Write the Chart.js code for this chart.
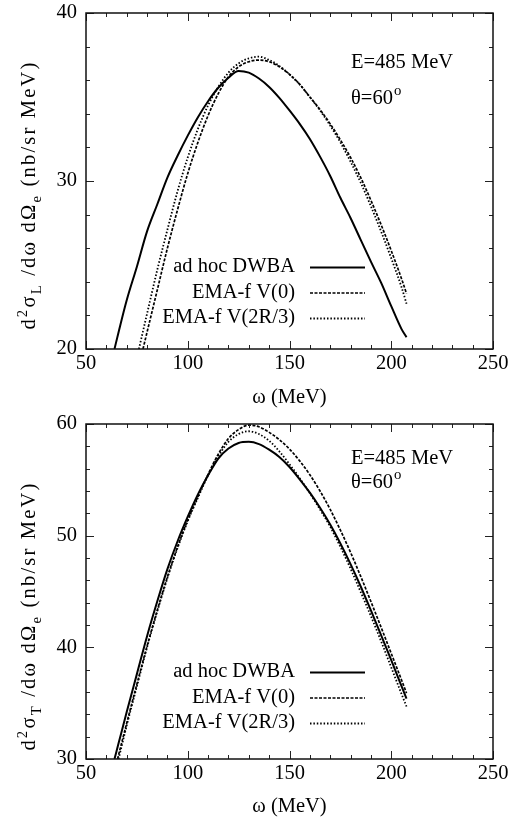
<!DOCTYPE html>
<html lang="en">
<head>
  <meta charset="UTF-8" />
  <title>EMA-f vs ad hoc DWBA</title>
  <style>
    body { margin: 0; background: #fff; }
    canvas { display: block; }
  </style>
</head>
<body>
  <canvas id="chartL" width="521" height="410"></canvas>
  <canvas id="chartT" width="521" height="409"></canvas>

  <script src="https://cdn.jsdelivr.net/npm/chart.js"></script>
  <script>
    // ---- longitudinal (top panel) ----
    const omegaL_dwba = [64, 66, 70, 75, 80, 85, 90, 95, 100, 105, 110, 115, 120, 125, 130, 135, 140, 145, 150, 155, 160, 165, 170, 175, 180, 185, 190, 195, 200, 205, 207.5];
    const L_dwba = [20.0, 21.0, 22.9, 24.9, 27.0, 28.6, 30.2, 31.5, 32.7, 33.8, 34.75, 35.55, 36.15, 36.55, 36.45, 36.1, 35.6, 34.95, 34.2, 33.4, 32.5, 31.45, 30.3, 29.0, 27.8, 26.5, 25.2, 23.95, 22.55, 21.2, 20.7];

    const omegaL_ema0 = [78, 80, 85, 90, 95, 100, 105, 110, 115, 120, 125, 130, 135, 140, 145, 150, 155, 160, 165, 170, 175, 180, 185, 190, 195, 200, 205, 207.5];
    const L_ema0 = [20.0, 21.0, 23.5, 26.0, 28.3, 30.45, 32.3, 33.9, 35.2, 36.2, 36.8, 37.1, 37.2, 37.1, 36.8, 36.35, 35.75, 35.0, 34.25, 33.4, 32.45, 31.4, 30.2, 28.85, 27.4, 25.85, 24.2, 23.3];

    const omegaL_ema23 = [76, 80, 85, 90, 95, 100, 105, 110, 115, 120, 125, 130, 135, 140, 145, 150, 155, 160, 165, 170, 175, 180, 185, 190, 195, 200, 205, 207.5];
    const L_ema23 = [20.0, 22.1, 24.7, 27.1, 29.4, 31.4, 33.1, 34.5, 35.6, 36.45, 37.0, 37.3, 37.4, 37.2, 36.85, 36.35, 35.75, 35.0, 34.2, 33.3, 32.3, 31.15, 29.9, 28.5, 27.0, 25.4, 23.7, 22.7];

    // ---- transverse (bottom panel) ----
    const omegaT_dwba = [64, 66, 70, 75, 80, 85, 90, 95, 100, 105, 110, 115, 120, 125, 130, 135, 140, 145, 150, 155, 160, 165, 170, 175, 180, 185, 190, 195, 200, 205, 207.5];
    const T_dwba = [30.0, 31.4, 34.2, 37.6, 41.0, 44.1, 47.0, 49.5, 51.7, 53.7, 55.4, 56.9, 57.8, 58.3, 58.4, 58.2, 57.7, 57.05, 56.15, 55.05, 53.85, 52.5, 51.0, 49.3, 47.45, 45.45, 43.3, 41.1, 38.85, 36.55, 35.4];

    const omegaT_ema0 = [65.5, 70, 75, 80, 85, 90, 95, 100, 105, 110, 115, 120, 125, 130, 135, 140, 145, 150, 155, 160, 165, 170, 175, 180, 185, 190, 195, 200, 205, 207.5];
    const T_ema0 = [30.0, 33.2, 36.7, 40.1, 43.3, 46.3, 49.0, 51.4, 53.5, 55.5, 57.3, 58.7, 59.5, 59.9, 59.75, 59.25, 58.6, 57.75, 56.7, 55.45, 54.0, 52.35, 50.5, 48.5, 46.35, 44.1, 41.8, 39.45, 37.1, 35.9];

    const omegaT_ema23 = [66, 70, 75, 80, 85, 90, 95, 100, 105, 110, 115, 120, 125, 130, 135, 140, 145, 150, 155, 160, 165, 170, 175, 180, 185, 190, 195, 200, 205, 207.5];
    const T_ema23 = [30.0, 33.0, 36.5, 40.0, 43.2, 46.2, 48.9, 51.3, 53.4, 55.4, 57.1, 58.4, 59.1, 59.35, 59.1, 58.5, 57.55, 56.4, 55.15, 53.8, 52.35, 50.8, 49.0, 47.05, 44.95, 42.8, 40.55, 38.2, 35.85, 34.7];

    const seriesLabels = ['ad hoc DWBA', 'EMA-f V(0)', 'EMA-f V(2R/3)'];
    const xTickLabels = [50, 100, 150, 200, 250];

    const SERIF = '"Liberation Serif", "DejaVu Serif", serif';
    const FS = 20.5;

    function pts(xs, ys) {
      return xs.map((x, i) => ({ x: x, y: ys[i] }));
    }

    function fontStr(size) {
      return size + 'px ' + SERIF;
    }

    // gnuplot-like frame with inward ticks on all four sides
    const framePlugin = {
      id: 'frame',
      afterDatasetsDraw(chart) {
        const { ctx, chartArea: a, scales: { x, y } } = chart;
        ctx.save();
        ctx.strokeStyle = '#222';
        ctx.lineWidth = 1;
        ctx.beginPath();
        x.ticks.forEach(t => {
          const px = Math.round(x.getPixelForValue(t.value)) + 0.5;
          const len = xTickLabels.includes(t.value) ? 8 : 4;
          ctx.moveTo(px, a.bottom); ctx.lineTo(px, a.bottom - len);
          ctx.moveTo(px, a.top); ctx.lineTo(px, a.top + len);
        });
        y.ticks.forEach(t => {
          const py = Math.round(y.getPixelForValue(t.value)) + 0.5;
          const len = t.value % 10 === 0 ? 8 : 4;
          ctx.moveTo(a.left, py); ctx.lineTo(a.left + len, py);
          ctx.moveTo(a.right, py); ctx.lineTo(a.right - len, py);
        });
        ctx.stroke();
        ctx.lineWidth = 1.5;
        ctx.strokeStyle = '#111';
        ctx.strokeRect(a.left, a.top, a.width, a.height);
        ctx.restore();
      }
    };

    // rich-text y title, key and kinematics note
    const notesPlugin = {
      id: 'notes',
      afterDraw(chart, args, opts) {
        const { ctx, chartArea: a } = chart;
        ctx.save();
        ctx.fillStyle = '#000';

        // y axis title, rotated
        const parts = [
          { t: 'd' }, { t: '2', s: -0.38 }, { t: 'σ' }, { t: opts.sub, s: 0.28 },
          { t: ' /dω dΩ' }, { t: 'e', s: 0.28 }, { t: ' (nb/sr MeV)' }
        ];
        ctx.translate(28, a.top + opts.titleY);
        ctx.rotate(-Math.PI / 2);
        ctx.letterSpacing = '2.2px';
        let total = 0;
        parts.forEach(p => {
          ctx.font = fontStr(p.s ? FS * 0.72 : FS);
          p.w = ctx.measureText(p.t).width;
          total += p.w;
        });
        let tx = -total / 2;
        ctx.textBaseline = 'alphabetic';
        ctx.textAlign = 'left';
        parts.forEach(p => {
          ctx.font = fontStr(p.s ? FS * 0.72 : FS);
          ctx.fillText(p.t, tx, FS * 0.33 + (p.s || 0) * FS);
          tx += p.w;
        });
        ctx.setTransform(1, 0, 0, 1, 0, 0);
        ctx.letterSpacing = '0px';

        // key: label on the left, line sample on the right
        ctx.font = fontStr(FS);
        ctx.textBaseline = 'middle';
        chart.data.datasets.forEach((ds, i) => {
          const yy = a.top + opts.keyTop + i * 25.5;
          ctx.textAlign = 'right';
          ctx.fillText(ds.label, a.left + 209, yy);
          ctx.save();
          ctx.strokeStyle = ds.borderColor;
          ctx.lineWidth = ds.borderWidth;
          ctx.setLineDash(ds.borderDash || []);
          ctx.beginPath();
          ctx.moveTo(a.left + 224, yy + 0.5);
          ctx.lineTo(a.left + 279, yy + 0.5);
          ctx.stroke();
          ctx.restore();
        });

        // kinematics
        ctx.textAlign = 'left';
        ctx.fillText('E=485 MeV', a.left + 265, a.top + opts.eY);
        ctx.fillText('θ=60', a.left + 265, a.top + opts.thY);
        const w = ctx.measureText('θ=60').width;
        ctx.font = fontStr(FS * 0.72);
        ctx.fillText('o', a.left + 265 + w + 1, a.top + opts.thY - 8);
        ctx.restore();
      }
    };

    function makeChart(id, sets, yMin, yMax, topPad, xAxisH, titlePadB, notes) {
      const dash = [[], [3, 1.5], [1.5, 1.9]];
      const widths = [2, 1.7, 1.8];
      return new Chart(document.getElementById(id).getContext('2d'), {
        type: 'line',
        data: {
          datasets: sets.map((s, i) => ({
            label: seriesLabels[i],
            data: pts(s[0], s[1]),
            borderColor: '#000',
            borderWidth: widths[i],
            borderDash: dash[i],
            pointRadius: 0,
            fill: false,
            cubicInterpolationMode: 'monotone',
            clip: 0
          }))
        },
        options: {
          responsive: false,
          animation: false,
          layout: { padding: { top: topPad, right: 28, left: 0, bottom: 0 } },
          plugins: {
            legend: { display: false },
            tooltip: { enabled: false },
            notes: notes
          },
          scales: {
            x: {
              type: 'linear',
              min: 50,
              max: 250,
              grid: { display: false, drawTicks: false },
              border: { display: false },
              ticks: {
                stepSize: 10,
                autoSkip: false,
                maxRotation: 0,
                padding: 2,
                color: '#000',
                font: { family: SERIF, size: FS },
                callback: v => xTickLabels.includes(v) ? String(v) : ''
              },
              title: {
                display: true,
                text: 'ω (MeV)',
                color: '#000',
                font: { family: SERIF, size: FS },
                padding: { top: 0, bottom: titlePadB }
              },
              afterFit: s => {
                s.height = xAxisH;
                s.paddingLeft = 0;
                s.paddingRight = 0;
              }
            },
            y: {
              min: yMin,
              max: yMax,
              grid: { display: false, drawTicks: false },
              border: { display: false },
              ticks: {
                stepSize: 2,
                autoSkip: false,
                padding: 9,
                color: '#000',
                font: { family: SERIF, size: FS },
                callback: v => v % 10 === 0 ? String(v) : ''
              },
              afterFit: s => {
                s.width = 86;
                s.paddingTop = 0;
                s.paddingBottom = 0;
              }
            }
          }
        },
        plugins: [framePlugin, notesPlugin]
      });
    }

    makeChart('chartL',
      [[omegaL_dwba, L_dwba], [omegaL_ema0, L_ema0], [omegaL_ema23, L_ema23]],
      20, 40, 13, 61, 0,
      { sub: 'L', titleY: 182, keyTop: 254, eY: 50, thY: 86 });

    makeChart('chartT',
      [[omegaT_dwba, T_dwba], [omegaT_ema0, T_ema0], [omegaT_ema23, T_ema23]],
      30, 60, 14, 60, 0,
      { sub: 'T', titleY: 192, keyTop: 248, eY: 35, thY: 59 });
  </script>
</body>
</html>
